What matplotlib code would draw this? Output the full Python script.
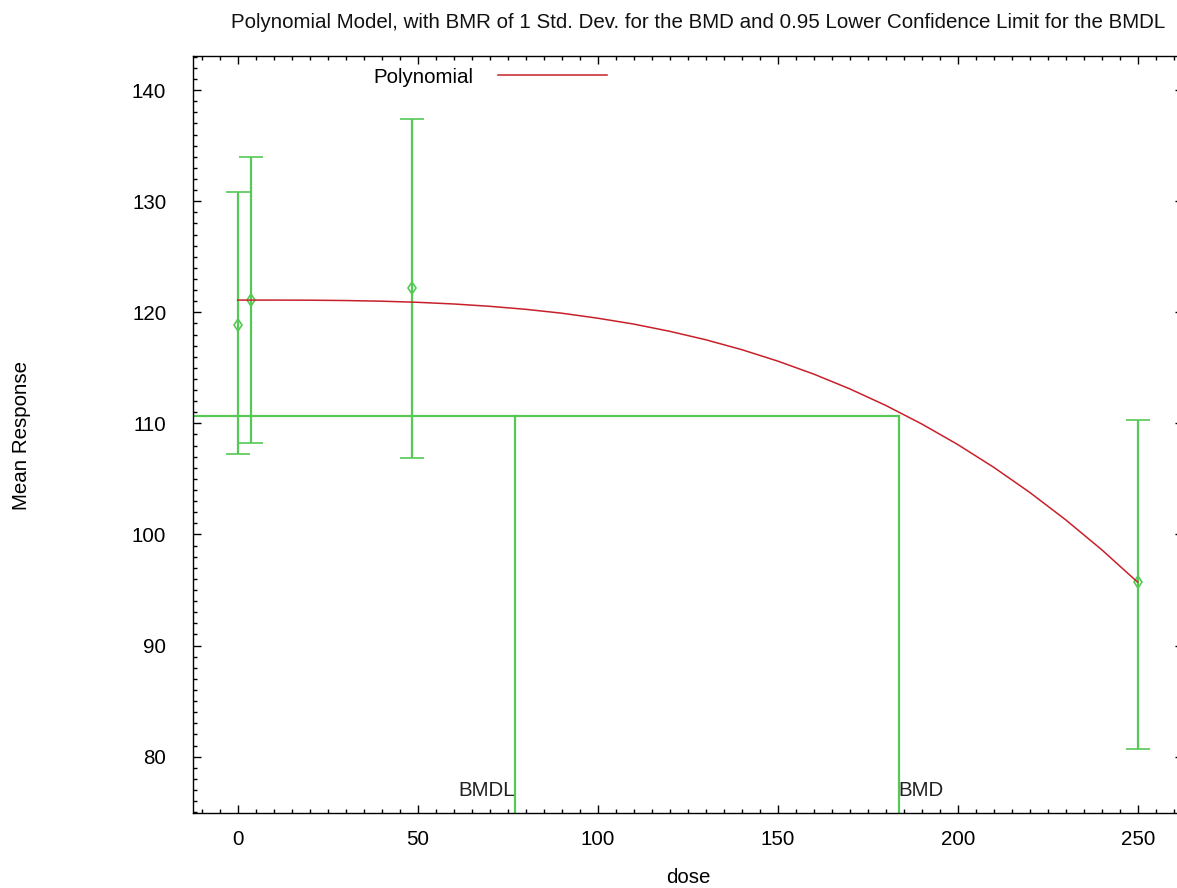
import matplotlib
matplotlib.use("Agg")
import matplotlib.pyplot as plt
from matplotlib.ticker import MultipleLocator
from matplotlib.lines import Line2D

plt.rcParams["font.family"] = ["Liberation Sans", "DejaVu Sans"]

GREEN = "#55c855"
RED = "#c8202a"
FS = 14.8

# observed group means with error-bar limits
dose = [0, 3.7, 48.4, 250]
mean = [118.9, 121.1, 122.2, 95.7]
lower = [107.2, 108.2, 106.9, 80.7]
upper = [130.8, 134.0, 137.4, 110.3]

# fitted polynomial curve
curve_dose = [0, 10, 20, 30, 40, 50, 60, 70, 80, 90, 100, 110, 120, 130,
              140, 150, 160, 170, 180, 190, 200, 210, 220, 230, 240, 250]
curve_resp = [121.1, 121.1, 121.09, 121.06, 121.0, 120.9, 120.75, 120.54,
              120.27, 119.92, 119.47, 118.94, 118.29, 117.53, 116.64, 115.61,
              114.44, 113.11, 111.62, 109.95, 108.1, 106.05, 103.79, 101.32,
              98.63, 95.7]

bmdl = 77.0
bmd = 183.6
bmr_level = 110.7

XLIM = (-12.5, 262.5)
YLIM = (74.9, 143.1)

fig = plt.figure(figsize=(11.77, 8.88), dpi=100)
ax = fig.add_axes([192.7 / 1177, 1 - 813.3 / 888, 990 / 1177, (813.3 - 55.7) / 888])

ax.plot(curve_dose, curve_resp, color=RED, lw=1.1, label="Polynomial", zorder=3)

err_lo = [m - l for m, l in zip(mean, lower)]
err_hi = [u - m for m, u in zip(mean, upper)]
ax.errorbar(dose, mean, yerr=[err_lo, err_hi], fmt="d", color=GREEN,
            mfc="none", mec=GREEN, ms=6, mew=1.2, elinewidth=1.6,
            capsize=8.5, capthick=1.6, zorder=2)

# BMD / BMDL construction lines
ax.plot([XLIM[0], bmd], [bmr_level, bmr_level], color=GREEN, lw=1.6, zorder=2)
ax.plot([bmdl, bmdl], [YLIM[0], bmr_level], color=GREEN, lw=1.6, zorder=2)
ax.plot([bmd, bmd], [YLIM[0], bmr_level], color=GREEN, lw=1.6, zorder=2)
ax.text(bmdl, 76.1, "BMDL", ha="right", va="bottom", fontsize=FS, color="#222222")
ax.text(bmd, 76.1, "BMD", ha="left", va="bottom", fontsize=FS, color="#222222")

ax.set_xlim(*XLIM)
ax.set_ylim(*YLIM)
ax.xaxis.set_major_locator(MultipleLocator(50))
ax.xaxis.set_minor_locator(MultipleLocator(5))
ax.yaxis.set_major_locator(MultipleLocator(10))
ax.yaxis.set_minor_locator(MultipleLocator(1))
ax.tick_params(which="both", direction="in", top=True, right=True,
               color="black", width=1.0)
ax.tick_params(which="major", length=5.5, labelsize=FS)
ax.tick_params(axis="y", which="major", pad=19)
ax.tick_params(axis="x", which="major", pad=12)
ax.tick_params(which="minor", length=3)
for s in ax.spines.values():
    s.set_linewidth(1.0)

handle = Line2D([], [], color=RED, lw=1.1)
ax.legend([handle], ["Polynomial"], loc="center left",
          bbox_to_anchor=(373 / 1177, 1 - 77 / 888), bbox_transform=fig.transFigure,
          frameon=False, markerfirst=False, borderpad=0, borderaxespad=0,
          handlelength=5.3, handletextpad=1.2, fontsize=FS)

fig.text(698 / 1177, 1 - 22 / 888,
         "Polynomial Model, with BMR of 1 Std. Dev. for the BMD and 0.95 Lower Confidence Limit for the BMDL",
         ha="center", va="center", fontsize=FS, color="#111111")
fig.text(688 / 1177, 1 - 877 / 888, "dose", ha="center", va="center", fontsize=FS)
fig.text(22 / 1177, 1 - 435 / 888, "Mean Response", ha="center", va="center",
         rotation=90, fontsize=FS)

plt.savefig("out.png", dpi=100, facecolor="white")
